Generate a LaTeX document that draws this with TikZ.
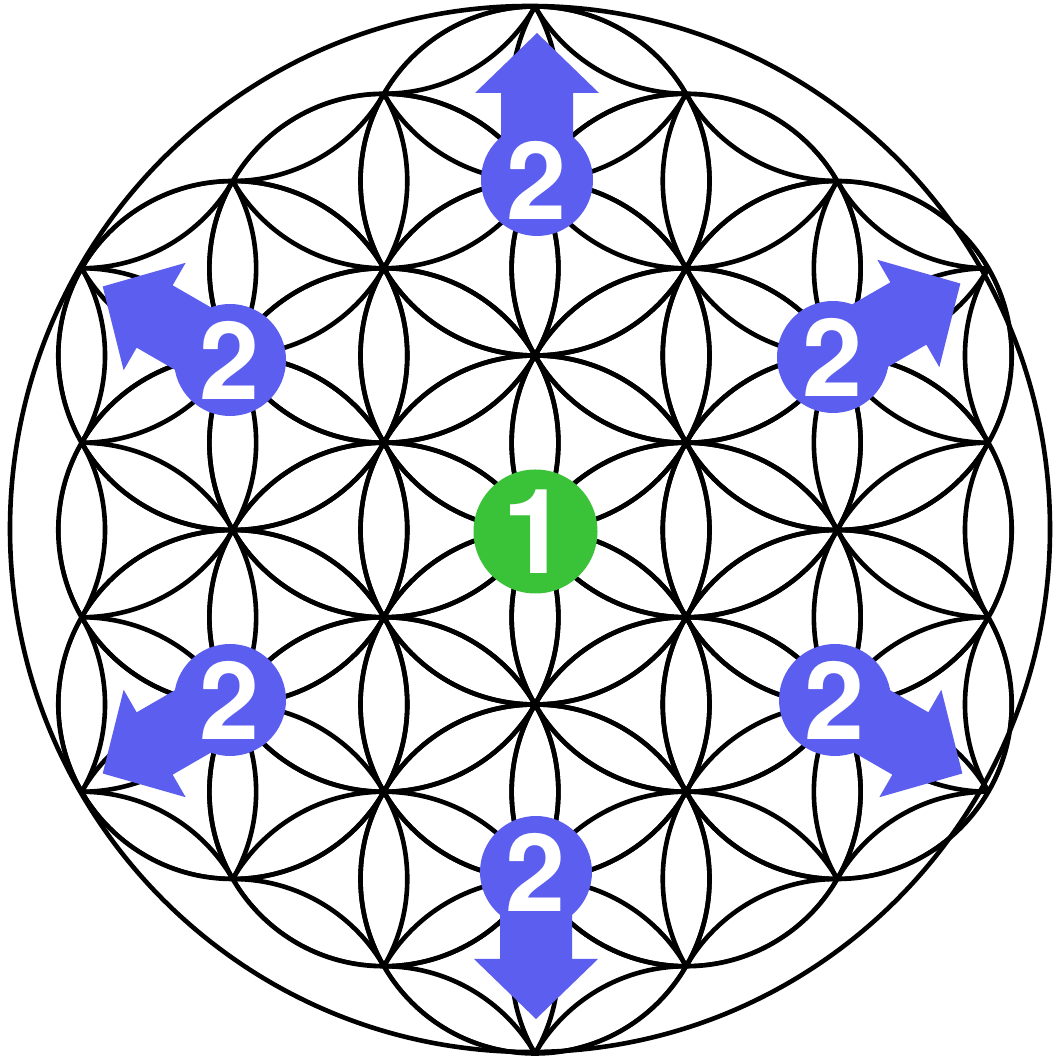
\documentclass[tikz,border=0pt]{standalone}
\usepackage{fontspec}
\setmainfont{TeX Gyre Heros}
\definecolor{petalblue}{RGB}{92,94,240}
\definecolor{seedgreen}{RGB}{58,194,56}
\tikzset{
  lat/.style={draw=black, line width=4.6pt},
  rim/.style={draw=black, line width=4.6pt},
  badge/.style={circle, fill=petalblue, minimum size=112pt, inner sep=0pt, text=white,
    font=\bfseries\fontsize{108}{108}\selectfont},
  seed/.style={circle, fill=seedgreen, minimum size=124pt, inner sep=0pt, text=white,
    font=\bfseries\fontsize{118}{118}\selectfont},
  arrowfill/.style={fill=petalblue},
  outarrow/.pic={\fill[arrowfill] (0,-36) -- (87,-36) -- (87,-62) -- (147,0) -- (87,62) -- (87,36) -- (0,36) -- cycle;}
}
\begin{document}
\begin{tikzpicture}[x=1pt,y=1pt]
\useasboundingbox (0,0) rectangle (1055,1057);
\fill[white] (0,0) rectangle (1055,1057);
% lattice circles clipped to the union of the 19 central circles
\begin{scope}
\clip foreach \a/\b in {0/0,1/0,2/0,-1/0,-2/0,-2/1,-1/1,0/1,1/1,-1/-1,0/-1,1/-1,2/-1,-2/2,-1/2,0/2,0/-2,1/-2,2/-2}
  {({535+\b*151.12},{527+\a*174.5+\b*87.25}) circle (174.5)};
\foreach \a in {-5,...,5}{
  \foreach \b in {-4,...,4}{
    \draw[lat] ({535+\b*151.12},{527+\a*174.5+\b*87.25}) circle (174.5);
  }
}
\end{scope}
% the 19 complete circles
\foreach \a/\b in {0/0,1/0,2/0,-1/0,-2/0,-2/1,-1/1,0/1,1/1,-1/-1,0/-1,1/-1,2/-1,-2/2,-1/2,0/2,0/-2,1/-2,2/-2}
  \draw[lat] ({535+\b*151.12},{527+\a*174.5+\b*87.25}) circle (174.5);
% outer rim
\draw[rim] (530,528) ellipse [x radius=520, y radius=523];
% arrows
\pic[rotate=90] at (537,877) {outarrow};
\pic[rotate=30] at (833,700) {outarrow};
\pic[rotate=150] at (230,697) {outarrow};
\pic[rotate=210] at (230,357) {outarrow};
\pic[rotate=330] at (835,357) {outarrow};
\pic[rotate=270] at (536,185) {outarrow};
% badges
\node[badge] (btop) at (537,877) {2};
\node[badge] (bur) at (833,700) {2};
\node[badge] (bul) at (230,697) {2};
\node[badge] (bll) at (230,357) {2};
\node[badge] (blr) at (835,357) {2};
\node[badge] (bbot) at (536,185) {2};
\node[seed] (seed) at (535.5,525.5) {1};
\end{tikzpicture}
\end{document}
